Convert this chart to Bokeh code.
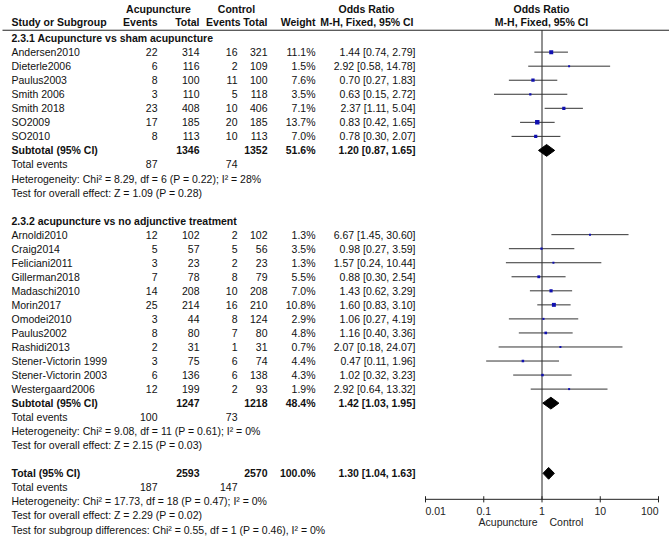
import math
from bokeh.plotting import figure
from bokeh.models import Range1d, LogScale, ColumnDataSource
from bokeh.core.properties import value
from bokeh.embed import file_html
from bokeh.resources import INLINE

# ---------------- data ----------------
group1_label = "2.3.1 Acupuncture vs sham acupuncture"
studies_g1 = ["Andersen2010", "Dieterle2006", "Paulus2003", "Smith 2006", "Smith 2018", "SO2009", "SO2010"]
acu_events_g1 = [22, 6, 8, 3, 23, 17, 8]
acu_total_g1 = [314, 116, 100, 110, 408, 185, 113]
ctl_events_g1 = [16, 2, 11, 5, 10, 20, 10]
ctl_total_g1 = [321, 109, 100, 118, 406, 185, 113]
weight_g1 = [11.1, 1.5, 7.6, 3.5, 7.1, 13.7, 7.0]
or_g1 = [1.44, 2.92, 0.70, 0.63, 2.37, 0.83, 0.78]
lo_g1 = [0.74, 0.58, 0.27, 0.15, 1.11, 0.42, 0.30]
hi_g1 = [2.79, 14.78, 1.83, 2.72, 5.04, 1.65, 2.07]

group2_label = "2.3.2 acupuncture vs no adjunctive treatment"
studies_g2 = ["Arnoldi2010", "Craig2014", "Feliciani2011", "Gillerman2018", "Madaschi2010", "Morin2017",
              "Omodei2010", "Paulus2002", "Rashidi2013", "Stener-Victorin 1999", "Stener-Victorin 2003",
              "Westergaard2006"]
acu_events_g2 = [12, 5, 3, 7, 14, 25, 3, 8, 2, 3, 6, 12]
acu_total_g2 = [102, 57, 23, 78, 208, 214, 44, 80, 31, 75, 136, 199]
ctl_events_g2 = [2, 5, 2, 8, 10, 16, 8, 7, 1, 6, 6, 2]
ctl_total_g2 = [102, 56, 23, 79, 208, 210, 124, 80, 31, 74, 138, 93]
weight_g2 = [1.3, 3.5, 1.3, 5.5, 7.0, 10.8, 2.9, 4.8, 0.7, 4.4, 4.3, 1.9]
or_g2 = [6.67, 0.98, 1.57, 0.88, 1.43, 1.60, 1.06, 1.16, 2.07, 0.47, 1.02, 2.92]
lo_g2 = [1.45, 0.27, 0.24, 0.30, 0.62, 0.83, 0.27, 0.40, 0.18, 0.11, 0.32, 0.64]
hi_g2 = [30.60, 3.59, 10.44, 2.54, 3.29, 3.10, 4.19, 3.36, 24.07, 1.96, 3.23, 13.32]

# pooled results: subgroup 1, subgroup 2, overall
pooled_labels = ["Subtotal (95% CI)", "Subtotal (95% CI)", "Total (95% CI)"]
pooled_acu_total = [1346, 1247, 2593]
pooled_ctl_total = [1352, 1218, 2570]
pooled_weight = [51.6, 48.4, 100.0]
pooled_or = [1.20, 1.42, 1.30]
pooled_lo = [0.87, 1.03, 1.04]
pooled_hi = [1.65, 1.95, 1.63]
pooled_acu_events = [87, 100, 187]
pooled_ctl_events = [74, 73, 147]
heterogeneity = [
    "Heterogeneity: Chi\u00b2 = 8.29, df = 6 (P = 0.22); I\u00b2 = 28%",
    "Heterogeneity: Chi\u00b2 = 9.08, df = 11 (P = 0.61); I\u00b2 = 0%",
    "Heterogeneity: Chi\u00b2 = 17.73, df = 18 (P = 0.47); I\u00b2 = 0%",
]
overall_effect = [
    "Test for overall effect: Z = 1.09 (P = 0.28)",
    "Test for overall effect: Z = 2.15 (P = 0.03)",
    "Test for overall effect: Z = 2.29 (P = 0.02)",
]
subgroup_test = "Test for subgroup differences: Chi\u00b2 = 0.55, df = 1 (P = 0.46), I\u00b2 = 0%"

axis_ticks = [0.01, 0.1, 1, 10, 100]
axis_tick_labels = ["0.01", "0.1", "1", "10", "100"]
favours_left = "Acupuncture"
favours_right = "Control"

# ---------------- layout ----------------
FONT = value("Liberation Sans")
FS = "10.5px"
W, H = 669, 537
X0, X1 = 0, 669                   # horizontal layout units (px)
PX_LOG_LO, PX_LOG_HI = 425, 658   # where 0.01 and 100 sit
per_dec = (PX_LOG_HI - PX_LOG_LO) / 4.0
ROW0, STEP = 37.6, 14.04          # px of first row and row pitch

p = figure(width=W, height=H, x_range=Range1d(X0, X1),
           y_range=Range1d((H - ROW0) / STEP, -ROW0 / STEP),
           output_backend="svg", toolbar_location=None, min_border=0,
           x_axis_location=None, y_axis_location=None)
p.grid.visible = False
p.outline_line_color = None
p.background_fill_color = "white"
p.extra_x_ranges = {"or": Range1d(10 ** (-2 - (PX_LOG_LO - X0) / per_dec),
                                  10 ** (2 + (X1 - PX_LOG_HI) / per_dec))}
p.extra_x_scales = {"or": LogScale()}

# column positions
C_NAME = 11
C_AE = 157
C_AT = 199
C_CE = 237
C_CT = 267
C_W = 315
C_OR = 415

texts = {}
def add(x, y, t, align="left", bold=False):
    key = (align, bold)
    d = texts.setdefault(key, {"x": [], "y": [], "t": []})
    d["x"].append(x); d["y"].append(y); d["t"].append(t)

def fmt_or(o, l, h):
    return f"{o:.2f} [{l:.2f}, {h:.2f}]"

# header
H1, H2 = -2.1, -1.12
add(158, H1, "Acupuncture", "center", True)
add(236, H1, "Control", "center", True)
add(366, H1, "Odds Ratio", "center", True)
add(541, H1, "Odds Ratio", "center", True)
add(C_NAME, H2, "Study or Subgroup", "left", True)
add(C_AE, H2, "Events", "right", True)
add(C_AT, H2, "Total", "right", True)
add(240, H2, "Events", "right", True)
add(C_CT, H2, "Total", "right", True)
add(C_W, H2, "Weight", "right", True)
add(413, H2, "M-H, Fixed, 95% CI", "right", True)
add(541, H2, "M-H, Fixed, 95% CI", "center", True)
HEADER_LINE = -0.56

study_rows = {"x": [], "lo": [], "hi": [], "y": [], "size": []}
pooled_rows = {"xs": [], "ys": []}

def add_pooled(gi, r):
    add(C_NAME, r, pooled_labels[gi], "left", True)
    add(C_AT, r, str(pooled_acu_total[gi]), "right", True)
    add(C_CT, r, str(pooled_ctl_total[gi]), "right", True)
    add(C_W, r, f"{pooled_weight[gi]:.1f}%", "right", True)
    add(C_OR, r, fmt_or(pooled_or[gi], pooled_lo[gi], pooled_hi[gi]), "right", True)
    add(C_NAME, r + 1, "Total events")
    add(C_AE, r + 1, str(pooled_acu_events[gi]), "right")
    add(C_CE, r + 1, str(pooled_ctl_events[gi]), "right")
    add(C_NAME, r + 2, heterogeneity[gi])
    add(C_NAME, r + 3, overall_effect[gi])
    dh = 0.42
    pooled_rows["xs"].append([pooled_lo[gi], pooled_or[gi], pooled_hi[gi], pooled_or[gi]])
    pooled_rows["ys"].append([r, r - dh, r, r + dh])

def add_group(label, start, names, ae, at, ce, ct, w, o, lo, hi, gi):
    add(C_NAME, start, label, "left", True)
    for i, n in enumerate(names):
        r = start + 1 + i
        add(C_NAME, r, n)
        add(C_AE, r, str(ae[i]), "right")
        add(C_AT, r, str(at[i]), "right")
        add(C_CE, r, str(ce[i]), "right")
        add(C_CT, r, str(ct[i]), "right")
        add(C_W, r, f"{w[i]:.1f}%", "right")
        add(C_OR, r, fmt_or(o[i], lo[i], hi[i]), "right")
        study_rows["x"].append(o[i]); study_rows["lo"].append(lo[i]); study_rows["hi"].append(hi[i])
        study_rows["y"].append(r); study_rows["size"].append(max(2.0, 1.2 * math.sqrt(w[i])))
    r = start + 1 + len(names)
    add_pooled(gi, r)
    return r

r1 = add_group(group1_label, 0, studies_g1, acu_events_g1, acu_total_g1, ctl_events_g1, ctl_total_g1,
               weight_g1, or_g1, lo_g1, hi_g1, 0)
g2_start = r1 + 5
r2 = add_group(group2_label, g2_start, studies_g2, acu_events_g2, acu_total_g2, ctl_events_g2, ctl_total_g2,
               weight_g2, or_g2, lo_g2, hi_g2, 1)
r3 = r2 + 5
add_pooled(2, r3)
add(C_NAME, r3 + 4, subgroup_test)

AXIS_Y = 32.85

# lines in table
p.segment(x0=[2], x1=[X1], y0=[HEADER_LINE], y1=[HEADER_LINE], line_color="#222222", line_width=1)
p.segment(x0=[1], x1=[1], y0=[HEADER_LINE], y1=[AXIS_Y], x_range_name="or",
          line_color="#222222", line_width=1)

# CIs and squares
src = ColumnDataSource(study_rows)
p.segment(x0="lo", x1="hi", y0="y", y1="y", source=src, x_range_name="or",
          line_color="#333333", line_width=1)
p.scatter(x="x", y="y", size="size", marker="square", source=src, x_range_name="or",
          fill_color="#1010b0", line_color=None)

# diamonds
p.patches(xs="xs", ys="ys", source=ColumnDataSource(pooled_rows), x_range_name="or",
          fill_color="black", line_color="black")

# axis
p.segment(x0=[axis_ticks[0]], x1=[axis_ticks[-1]], y0=[AXIS_Y], y1=[AXIS_Y], x_range_name="or",
          line_color="#222222", line_width=1)
p.segment(x0=axis_ticks, x1=axis_ticks, y0=[AXIS_Y - 0.22] * len(axis_ticks),
          y1=[AXIS_Y + 0.22] * len(axis_ticks), x_range_name="or", line_color="#222222", line_width=1)
tick_align = ["left"] + ["center"] * (len(axis_ticks) - 2) + ["right"]
p.text(x=axis_ticks, y=[AXIS_Y + 0.8] * len(axis_ticks), text=axis_tick_labels, x_range_name="or",
       text_align=tick_align, text_baseline="middle", text_font=FONT, text_font_size=FS,
       text_color="#222222")
p.text(x=[537], y=[AXIS_Y + 1.65], text=[favours_left], text_align="right",
       text_baseline="middle", text_font=FONT, text_font_size=FS, text_color="#222222")
p.text(x=[549], y=[AXIS_Y + 1.65], text=[favours_right], text_align="left",
       text_baseline="middle", text_font=FONT, text_font_size=FS, text_color="#222222")

for (align, bold), d in texts.items():
    p.text(x=d["x"], y=d["y"], text=d["t"], text_align=align, text_baseline="middle",
           text_font=FONT, text_font_size=FS, text_font_style="bold" if bold else "normal",
           text_color="#111111")

open("out.html", "w").write(file_html(p, INLINE))
